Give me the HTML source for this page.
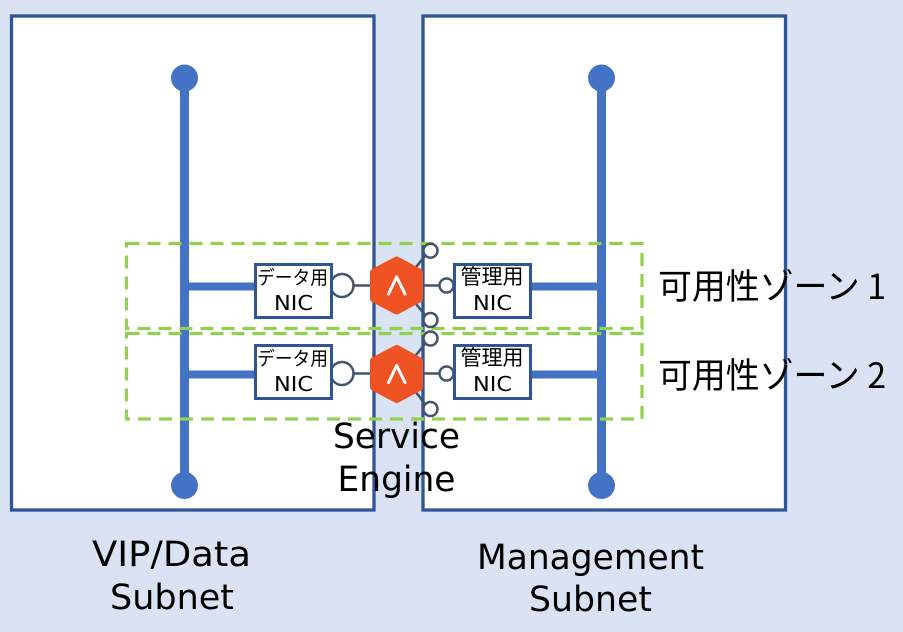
<!DOCTYPE html>
<html><head><meta charset="utf-8"><style>
html,body{margin:0;padding:0;background:#DAE3F3}
svg{display:block}
text{font-family:"DejaVu Sans","Noto Sans CJK JP",sans-serif;fill:#000}
.j{font-family:"Noto Sans CJK JP","DejaVu Sans",sans-serif}
</style></head><body>
<svg width="903" height="632" viewBox="0 0 903 632" xmlns="http://www.w3.org/2000/svg">
<rect width="903" height="632" fill="#DAE3F3"/>
<rect x="11.5" y="16" width="362.5" height="494" fill="#fff" stroke="#2F5597" stroke-width="3.3"/>
<rect x="423" y="16" width="362.5" height="494" fill="#fff" stroke="#2F5597" stroke-width="3.3"/>
<g stroke="#4472C4" fill="none">
<path d="M184.500 78V485M601.500 78V485" stroke-width="9"/>
<path d="M184 286.500H256M184 374.500H256M530 286.500H601M530 374.500H601" stroke-width="8"/>
</g>
<g fill="#4472C4">
<circle cx="184.500" cy="78" r="13.500"/><circle cx="184.500" cy="485.500" r="13.500"/>
<circle cx="601.500" cy="78" r="13.500"/><circle cx="601.500" cy="485.500" r="13.500"/>
</g>
<g fill="none" stroke="#92D050" stroke-width="3.200" stroke-dasharray="13 8">
<rect x="126.500" y="243.500" width="515.500" height="85"/>
<rect x="126.500" y="333.500" width="515.500" height="85.500"/>
</g>
<g fill="none" stroke="#44546A" stroke-width="2.500">
<path d="M342 285.500H372M420 285.500H440M412 272L425 256M412 299L425 315"/>
<path d="M342 373.500H372M420 373.500H440M412 360L425 344M412 387L425 404"/>
<circle cx="342" cy="285.500" r="11.500" fill="#fff"/><circle cx="342" cy="373.500" r="11.500" fill="#fff"/>
<g fill="#fff">
<circle cx="430.500" cy="250.700" r="7"/><circle cx="446.500" cy="285.500" r="7"/><circle cx="430.500" cy="320" r="7"/>
<circle cx="430.500" cy="338.500" r="7"/><circle cx="446.500" cy="373.500" r="7"/><circle cx="430.500" cy="409" r="7"/>
</g>
</g>
<g fill="#fff" stroke="#2F5597" stroke-width="3">
<rect x="255.500" y="264.500" width="76" height="53"/><rect x="255.500" y="345.500" width="76" height="53"/>
<rect x="454.500" y="264.500" width="76" height="53"/><rect x="454.500" y="345.500" width="76" height="53"/>
</g>
<g fill="#F05323" stroke="#F05323" stroke-width="8" stroke-linejoin="round">
<path d="M396.700 260.500L419 272.500V298.500L396.700 310.500L374 298.500V272.500Z"/>
<path d="M396.700 349L419 361V387L396.700 399L374 387V361Z"/>
</g>
<g fill="none" stroke="#fff" stroke-width="3" stroke-linecap="round" stroke-linejoin="round">
<path d="M388.500 294L396.700 277L405 294"/><path d="M388.500 382.500L396.700 365.500L405 382.500"/>
</g>
<g class="j" font-size="19">
<text class="j" x="257" y="284" textLength="71" lengthAdjust="spacingAndGlyphs">データ用</text>
<text class="j" x="257" y="365" textLength="71" lengthAdjust="spacingAndGlyphs">データ用</text>
<text class="j" x="460.500" y="284" textLength="63" lengthAdjust="spacingAndGlyphs" font-size="21">管理用</text>
<text class="j" x="460.500" y="365" textLength="63" lengthAdjust="spacingAndGlyphs" font-size="21">管理用</text>
</g>
<g font-size="20">
<text x="274" y="310" textLength="39" lengthAdjust="spacingAndGlyphs">NIC</text>
<text x="274" y="391" textLength="39" lengthAdjust="spacingAndGlyphs">NIC</text>
<text x="473" y="310" textLength="39" lengthAdjust="spacingAndGlyphs">NIC</text>
<text x="473" y="391" textLength="39" lengthAdjust="spacingAndGlyphs">NIC</text>
</g>
<g font-size="35">
<text class="j" x="658" y="299" textLength="228" lengthAdjust="spacingAndGlyphs">可用性ゾーン 1</text>
<text class="j" x="658" y="388" textLength="228" lengthAdjust="spacingAndGlyphs">可用性ゾーン 2</text>
<text x="333" y="448" textLength="127" lengthAdjust="spacingAndGlyphs">Service</text>
<text x="337.500" y="491" textLength="118" lengthAdjust="spacingAndGlyphs">Engine</text>
<text x="92" y="566" textLength="159" lengthAdjust="spacingAndGlyphs">VIP/Data</text>
<text x="110" y="609" textLength="124" lengthAdjust="spacingAndGlyphs">Subnet</text>
<text x="477" y="569" textLength="227" lengthAdjust="spacingAndGlyphs">Management</text>
<text x="529" y="611" textLength="123" lengthAdjust="spacingAndGlyphs">Subnet</text>
</g>
</svg>
</body></html>
